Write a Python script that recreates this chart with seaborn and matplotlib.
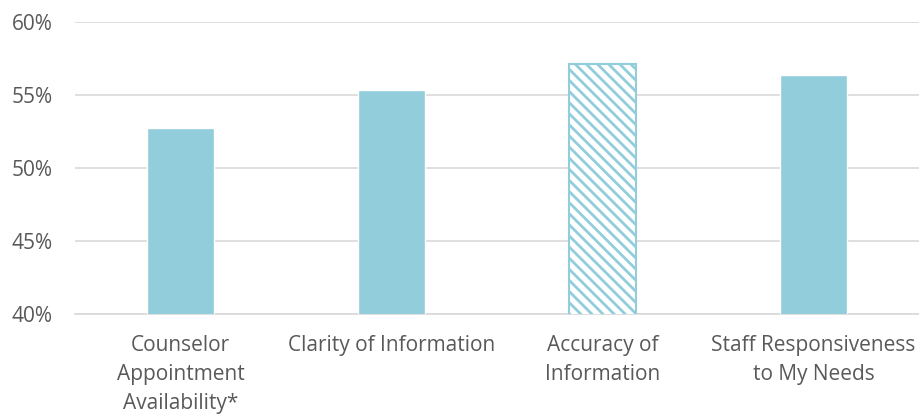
import matplotlib
matplotlib.use("Agg")
import matplotlib.pyplot as plt
import seaborn as sns
import pandas as pd

categories = ["Counselor\nAppointment\nAvailability*", "Clarity of Information",
              "Accuracy of\nInformation", "Staff Responsiveness\nto My Needs"]
values = [52.75, 55.35, 57.1, 56.4]
yticks = [40, 45, 50, 55, 60]
ytick_labels = ["40%", "45%", "50%", "55%", "60%"]

sns.set_theme(style="white")
plt.rcParams['font.family'] = ['Open Sans', 'DejaVu Sans']
plt.rcParams['hatch.linewidth'] = 2.0

df = pd.DataFrame({"cat": categories, "val": values})
fig = plt.figure(figsize=(9.19, 4.18), dpi=100)
ax = fig.add_axes([75/919, 1-314/418, 844/919, (314-22)/418])

sns.barplot(data=df, x="cat", y="val", color="#92CDDC", width=0.315,
            saturation=1, ax=ax, zorder=3)
patch = ax.patches[2]
patch.set_facecolor("white")
patch.set_edgecolor("#92CDDC")
patch.set_hatch("\\\\\\")
patch.set_linewidth(1.5)

ax.set_ylim(40, 60)
ax.set_xlim(-0.5, 3.5)
ax.set_yticks(yticks)
ax.set_yticklabels(ytick_labels)
ax.yaxis.grid(True, color="#D9D9D9", linewidth=1.2, zorder=0)
for s in ["top", "right", "left"]:
    ax.spines[s].set_visible(False)
ax.spines["bottom"].set_color("#D9D9D9")
ax.spines["bottom"].set_linewidth(1.2)
ax.set_xlabel("")
ax.set_ylabel("")
ax.tick_params(axis="both", colors="#595959", labelsize=15, length=0)
ax.tick_params(axis="y", pad=16)
ax.tick_params(axis="x", pad=15)
for lbl in ax.get_xticklabels():
    lbl.set_linespacing(1.52)
    lbl.set_verticalalignment("top")

fig.savefig("out.png", dpi=100)
